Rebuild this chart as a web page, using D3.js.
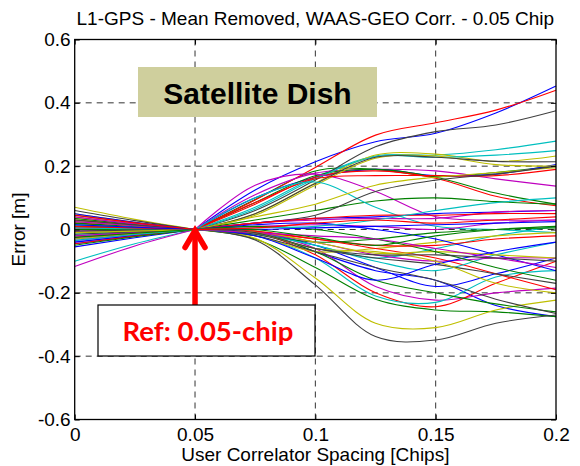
<!DOCTYPE html>
<meta charset="utf-8">
<style>
body{margin:0;background:white;}
svg{display:block;font-family:"Liberation Sans",Arial,sans-serif;}
.tick text{font-size:19px;fill:black;}
.grid line{stroke:#333;stroke-dasharray:6,5;stroke-width:1;}
</style>
<body>
<script src="https://cdn.jsdelivr.net/npm/d3@7"></script>
<script>
// correlator spacing sampled in chips
var spacing = [0, 0.025, 0.05, 0.075, 0.1, 0.125, 0.15, 0.175, 0.2];

// error curves [m], mean removed (colour order b g r c m y k)
var errB1 = [-0.030, -0.014, 0, 0.125, 0.214, 0.277, 0.304, 0.368, 0.453];
var errG1 = [-0.010, -0.005, 0, 0.095, 0.185, 0.190, 0.167, 0.180, 0.200];
var errR1 = [0.020, 0.009, 0, 0.093, 0.196, 0.298, 0.337, 0.377, 0.440];
var errC1 = [-0.020, -0.009, 0, 0.070, 0.165, 0.232, 0.235, 0.252, 0.279];
var errM1 = [-0.005, -0.002, 0, 0.110, 0.178, 0.190, 0.185, 0.160, 0.137];
var errY1 = [0.040, 0.018, 0, 0.050, 0.147, 0.235, 0.238, 0.215, 0.232];
var errK1 = [0.010, 0.005, 0, 0.060, 0.156, 0.261, 0.309, 0.330, 0.375];

var errB2 = [0.000, 0.000, 0, 0.100, 0.165, 0.190, 0.170, 0.175, 0.205];
var errG2 = [0.015, 0.007, 0, 0.085, 0.170, 0.190, 0.165, 0.115, 0.080];
var errR2 = [0.020, 0.009, 0, 0.080, 0.165, 0.185, 0.162, 0.105, 0.075];
var errC2 = [0.030, 0.014, 0, 0.065, 0.160, 0.230, 0.228, 0.235, 0.249];
var errM2 = [-0.040, -0.018, 0, 0.140, 0.175, 0.120, 0.040, 0.030, 0.030];
var errY2 = [0.050, 0.023, 0, 0.045, 0.140, 0.225, 0.232, 0.205, 0.200];
var errK2 = [0.045, 0.021, 0, 0.050, 0.145, 0.228, 0.228, 0.215, 0.214];

var errB3 = [-0.045, -0.021, 0, -0.005, -0.070, -0.130, -0.160, -0.240, -0.275];
var errG3 = [0.010, 0.005, 0, 0.030, 0.060, 0.090, 0.100, 0.088, 0.080];
var errR3 = [0.030, 0.014, 0, 0.085, 0.160, 0.170, 0.170, 0.170, 0.190];
var errC3 = [-0.015, -0.007, 0, 0.100, 0.150, 0.070, 0.010, 0.000, -0.010];
var errM3 = [0.005, 0.002, 0, -0.010, -0.060, -0.180, -0.223, -0.200, -0.185];
var errY3 = [0.035, 0.016, 0, 0.040, 0.080, 0.140, 0.165, 0.180, 0.195];
var errK3 = [0.025, 0.012, 0, 0.020, 0.045, 0.120, 0.156, 0.175, 0.200];

var errB4 = [-0.055, -0.026, 0, 0.020, 0.035, 0.040, 0.050, 0.055, 0.060];
var errG4 = [0.020, 0.009, 0, -0.030, -0.120, -0.220, -0.254, -0.260, -0.275];
var errR4 = [0.005, 0.002, 0, -0.010, -0.080, -0.200, -0.244, -0.170, -0.100];
var errC4 = [-0.100, -0.045, 0, -0.020, -0.090, -0.210, -0.230, -0.150, -0.130];
var errM4 = [-0.117, -0.052, 0, 0.020, 0.030, 0.035, 0.035, 0.055, 0.060];
var errY4 = [0.070, 0.032, 0, -0.028, -0.153, -0.296, -0.310, -0.254, -0.223];
var errK4 = [0.060, 0.028, 0, -0.033, -0.175, -0.338, -0.349, -0.296, -0.270];

var errB5 = [-0.035, -0.016, 0, -0.010, -0.050, -0.120, -0.180, -0.140, -0.090];
var errG5 = [0.000, 0.000, 0, -0.010, -0.070, -0.160, -0.200, -0.235, -0.260];
var errR5 = [-0.025, -0.012, 0, 0.020, 0.035, 0.045, 0.045, 0.050, 0.050];
var errC5 = [0.015, 0.007, 0, -0.010, -0.050, -0.090, -0.060, -0.020, 0.010];
var errM5 = [-0.020, -0.009, 0, 0.010, 0.015, 0.010, 0.000, 0.020, 0.030];
var errY5 = [0.025, 0.012, 0, -0.020, -0.070, -0.060, -0.040, -0.020, -0.010];
var errK5 = [-0.015, -0.007, 0, -0.020, -0.070, -0.120, -0.160, -0.220, -0.265];

var errB6 = [-0.040, -0.019, 0, 0.015, 0.020, 0.000, -0.030, -0.080, -0.130];
var errG6 = [0.035, 0.016, 0, -0.015, -0.040, -0.030, -0.010, 0.000, 0.005];
var errR6 = [-0.045, -0.021, 0, -0.010, -0.030, -0.060, -0.090, -0.140, -0.190];
var errC6 = [0.005, 0.002, 0, -0.015, -0.050, -0.100, -0.130, -0.080, -0.040];
var errM6 = [0.040, 0.018, 0, -0.010, -0.040, -0.080, -0.100, -0.090, -0.090];
var errY6 = [-0.030, -0.014, 0, -0.005, -0.040, -0.075, -0.070, -0.080, -0.090];
var errK6 = [-0.005, -0.002, 0, -0.015, -0.060, -0.090, -0.110, -0.140, -0.170];

var errB7 = [0.050, 0.023, 0, -0.020, -0.090, -0.160, -0.110, -0.070, -0.040];
var errG7 = [-0.050, -0.023, 0, 0.010, 0.000, -0.030, -0.070, -0.120, -0.160];
var errR7 = [0.010, 0.005, 0, -0.005, -0.030, -0.050, -0.050, -0.030, -0.020];
var errC7 = [-0.035, -0.016, 0, 0.005, 0.010, 0.030, 0.060, 0.085, 0.100];
var errM7 = [0.025, 0.012, 0, -0.010, -0.020, -0.030, -0.060, -0.090, -0.120];
var errY7 = [-0.010, -0.005, 0, -0.010, -0.060, -0.070, -0.100, -0.170, -0.200];
var errK7 = [0.030, 0.014, 0, -0.010, -0.060, -0.080, -0.080, -0.090, -0.100];

var errB8 = [0.015, 0.007, 0, 0.000, 0.005, 0.010, 0.015, 0.020, 0.025];
var errG8 = [-0.025, -0.012, 0, 0.000, -0.025, -0.050, -0.020, 0.000, 0.010];
var errR8 = [0.045, 0.021, 0, 0.005, 0.020, 0.030, 0.020, 0.030, 0.040];

var curves = [
  errB1, errG1, errR1, errC1, errM1, errY1, errK1,
  errB2, errG2, errR2, errC2, errM2, errY2, errK2,
  errB3, errG3, errR3, errC3, errM3, errY3, errK3,
  errB4, errG4, errR4, errC4, errM4, errY4, errK4,
  errB5, errG5, errR5, errC5, errM5, errY5, errK5,
  errB6, errG6, errR6, errC6, errM6, errY6, errK6,
  errB7, errG7, errR7, errC7, errM7, errY7, errK7,
  errB8, errG8, errR8
];

var xTicks = [0, 0.05, 0.1, 0.15, 0.2];
var yTicks = [-0.6, -0.4, -0.2, 0, 0.2, 0.4, 0.6];
var refSpacing = 0.05;

var W = 580, H = 466;
var pL = 74.7, pR = 556, pT = 39.5, pB = 419.5;

var svg = d3.select("body").append("svg").attr("width", W).attr("height", H);

var x = d3.scaleLinear().domain([0, 0.2]).range([pL, pR]);
var y = d3.scaleLinear().domain([-0.6, 0.6]).range([pB, pT]);
var color = d3.scaleOrdinal()
  .range(["#0000ff", "#008000", "#ff0000", "#00bfbf", "#bf00bf", "#bfbf00", "#404040"]);

var fmt = function(d){ return String(+d.toFixed(2)); };

// grid
var grid = svg.append("g").attr("class", "grid");
grid.selectAll(".gx").data(xTicks.slice(1, -1)).enter().append("line")
  .attr("x1", d => x(d)).attr("x2", d => x(d)).attr("y1", pT).attr("y2", pB);
grid.selectAll(".gy").data(yTicks.slice(1, -1)).enter().append("line")
  .attr("y1", d => y(d)).attr("y2", d => y(d)).attr("x1", pL).attr("x2", pR);

// curves: split at the reference spacing so the lines meet in a sharp point
var lineL = d3.line().x(d => x(d[0])).y(d => y(d[1])).curve(d3.curveMonotoneX);
var lineR = d3.line().x(d => x(d[0])).y(d => y(d[1])).curve(d3.curveCatmullRom.alpha(0.5));

var refIdx = spacing.indexOf(refSpacing);
var lines = svg.append("g");
curves.forEach(function(c, i){
  var pts = spacing.map((s, j) => [s, c[j]]);
  lines.append("path")
    .attr("d", lineL(pts.slice(0, refIdx + 1)) + lineR(pts.slice(refIdx)))
    .attr("fill", "none")
    .attr("stroke", color(i % 7))
    .attr("stroke-width", 1.1);
});

// axes, ticks inside like matlab
svg.append("g").attr("transform", "translate(0," + pB + ")")
  .call(d3.axisBottom(x).tickValues(xTicks).tickFormat(fmt).tickSize(-5).tickPadding(8))
  .call(g => g.select(".domain").remove());
svg.append("g").attr("transform", "translate(" + pL + ",0)")
  .call(d3.axisLeft(y).tickValues(yTicks).tickFormat(fmt).tickSize(-5).tickPadding(4))
  .call(g => g.select(".domain").remove());
svg.append("g").attr("transform", "translate(0," + pT + ")")
  .call(d3.axisTop(x).tickValues(xTicks).tickFormat("").tickSize(-5))
  .call(g => g.select(".domain").remove());
svg.append("g").attr("transform", "translate(" + pR + ",0)")
  .call(d3.axisRight(y).tickValues(yTicks).tickFormat("").tickSize(-5))
  .call(g => g.select(".domain").remove());

svg.selectAll(".tick line").attr("stroke", "black");

svg.append("rect")
  .attr("x", pL).attr("y", pT)
  .attr("width", pR - pL).attr("height", pB - pT)
  .attr("fill", "none").attr("stroke", "black").attr("stroke-width", 1.3);

// titles
svg.append("text").attr("x", (pL + pR) / 2).attr("y", 25)
  .attr("text-anchor", "middle").attr("font-size", 19)
  .text("L1-GPS - Mean Removed, WAAS-GEO Corr. - 0.05 Chip");
svg.append("text").attr("x", (pL + pR) / 2).attr("y", 461)
  .attr("text-anchor", "middle").attr("font-size", 19)
  .text("User Correlator Spacing [Chips]");
svg.append("text").attr("transform", "translate(25," + y(0) + ") rotate(-90)")
  .attr("text-anchor", "middle").attr("font-size", 19)
  .text("Error [m]");

// annotation boxes
svg.append("rect").attr("x", 138).attr("y", 67).attr("width", 239).attr("height", 50)
  .attr("fill", "#cfcf9d");
svg.append("text").attr("x", 257.5).attr("y", 103.5)
  .attr("text-anchor", "middle").attr("font-size", 30).attr("font-weight", "bold")
  .text("Satellite Dish");

// red arrow to the reference point
var ax = x(refSpacing), ay = y(0);
svg.append("line").attr("x1", ax).attr("x2", ax).attr("y1", 306).attr("y2", ay + 3)
  .attr("stroke", "red").attr("stroke-width", 5.5);
svg.append("polyline")
  .attr("points", [[ax - 10, ay + 18], [ax, ay + 1], [ax + 10, ay + 18]].join(" "))
  .attr("fill", "none").attr("stroke", "red").attr("stroke-width", 5.5)
  .attr("stroke-linecap", "round").attr("stroke-linejoin", "miter");

svg.append("rect").attr("x", 98).attr("y", 305).attr("width", 217).attr("height", 51)
  .attr("fill", "white").attr("stroke", "black").attr("stroke-width", 1.2);
svg.append("text").attr("x", 208).attr("y", 341)
  .attr("text-anchor", "middle").attr("font-size", 27.5).attr("font-weight", "bold")
  .attr("font-family", "Lato, 'Open Sans', sans-serif").attr("fill", "red")
  .text("Ref: 0.05-chip");
</script>
